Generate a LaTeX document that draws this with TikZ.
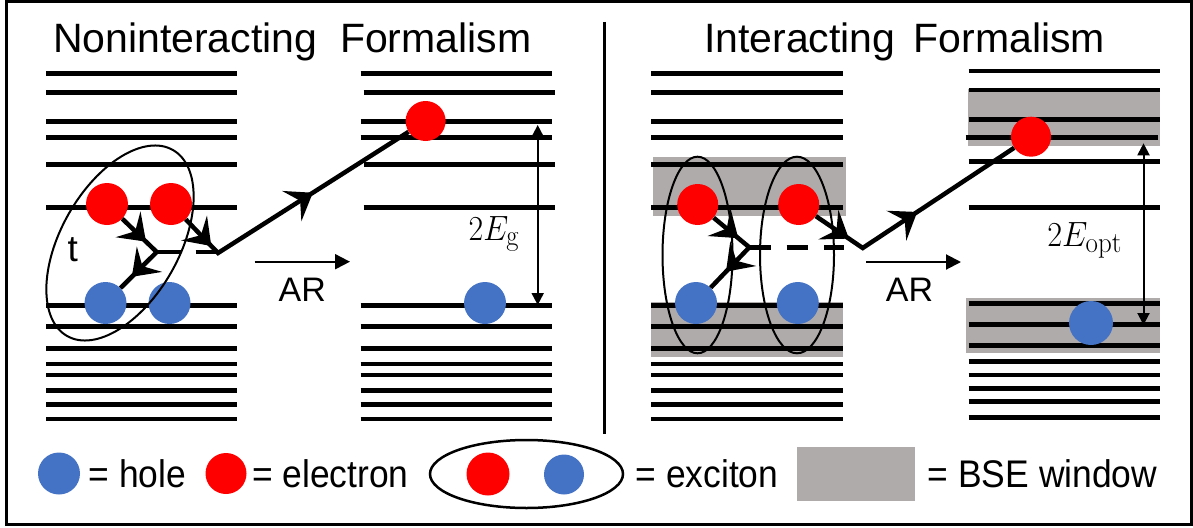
\documentclass[tikz,border=0pt]{standalone}
\usepackage[no-math]{fontspec}
\setmainfont{Liberation Sans}
\usetikzlibrary{arrows.meta,decorations.markings}
\definecolor{eblue}{RGB}{68,114,196}
\definecolor{ered}{RGB}{255,0,0}
\definecolor{bsegray}{RGB}{175,171,171}
\newcommand{\chevhead}{\fill (5pt,0pt) -- (-20pt,18pt) -- (-10pt,0pt) -- (-20pt,-18pt) -- cycle;}
\tikzset{
  level/.style={line width=4.5pt},
  band/.style={fill=bsegray},
  electron/.style={circle,fill=ered,minimum size=#1,inner sep=0pt},
  hole/.style={circle,fill=eblue,minimum size=#1,inner sep=0pt},
  exc/.style={draw,line width=2pt},
  fermion/.style={line width=4.5pt},
  arrowsat/.style 2 args={postaction={decorate},decoration={markings,
     mark=at position #1 with {\chevhead},
     mark=at position #2 with {\chevhead}}},
  arline/.style={line width=2pt,-{Triangle[length=15pt,width=15pt]}},
  dbl/.style={line width=2pt,{Triangle[length=12pt,width=12pt]}-{Triangle[length=12pt,width=12pt]}},
  title/.style={font=\fontsize{41}{41}\selectfont,anchor=base,inner sep=0pt},
  artext/.style={font=\fontsize{34}{34}\selectfont,anchor=base,inner sep=0pt},
  mathlbl/.style={font=\Huge,anchor=base,inner sep=0pt},
  legtext/.style={font=\fontsize{38.5}{38.5}\selectfont,anchor=base,inner sep=0pt},
}
\begin{document}
\begin{tikzpicture}[x=1pt,y=-1pt]
\useasboundingbox (0,0) rectangle (1193,527);
% frame and divider
\draw[line width=3pt] (6.7,1.5) rectangle (1191.5,524.3);
\coordinate (dv1) at (604.5,22);
\coordinate (dv2) at (604.5,434);
\draw[line width=2.5pt] (dv1) -- (dv2);
% titles
\node[title] (t1) at (292.3,52.7) {Noninteracting~~Formalism};
\node[title] (t2) at (904.5,52.7) {Interacting~\,Formalism};
% BSE windows
\fill[band] (653,157) rectangle (846,216);
\fill[band] (651,302) rectangle (843,357);
\fill[band] (968,89) rectangle (1160,146);
\fill[band] (965.7,298.3) rectangle (1160,353.3);
% levels, left panel
\foreach \y in {73.3,92.3,121.7,137.3,164.5,207.3,305.7,326.7,348.3,364,375,390.7,404.3,419}
  \draw[level] (46,\y) -- (237,\y);
\foreach \y in {73.3,121.7,137.3,305.7,326.7,348.3,364,375,390.7,404.3,419}
  \draw[level] (360.5,\y) -- (552,\y);
\foreach \y in {92.3,164.5,207.3}
  \draw[level] (363.6,\y) -- (555,\y);
% levels, right panel
\foreach \y in {73.3,92.3,121.7,137.3,164.5,207.3,305.7,326.7,348.3,364,375,390.7,404.3,419}
  \draw[level] (651,\y) -- (843,\y);
\foreach \y in {71,90,119.3,161.7,207.3,303.3,324.3,345.7,361.7,375,388.3,401.7,417.7}
  \draw[level] (968.5,\y) -- (1160,\y);
\draw[level] (965.7,137.7) -- (1158,137.7);
% particles, left panel
\node[electron=42pt] (le1) at (107,204) {};
\node[electron=42pt] (le2) at (171,204) {};
\node[hole=42pt] (lh1) at (105.5,303) {};
\node[hole=42pt] (lh2) at (169.5,303) {};
\node[electron=40pt] (le3) at (425.6,121) {};
\node[hole=42pt] (lh3) at (485,303) {};
% particles, right panel
\node[electron=41pt] (re1) at (697.7,204.5) {};
\node[electron=41pt] (re2) at (798.7,204.5) {};
\node[hole=42pt] (rh1) at (696,303) {};
\node[hole=42pt] (rh2) at (797.8,303) {};
\node[electron=40pt] (re3) at (1031,136.7) {};
\node[hole=44pt] (rh3) at (1091,323) {};
% excitons
\draw[exc,rotate around={60.4:(120,243)}] (120,243) ellipse [x radius=107, y radius=59];
\draw[exc] (697.5,255) ellipse [x radius=35, y radius=98.3];
\draw[exc] (797,255) ellipse [x radius=37, y radius=98.3];
% vertices
\coordinate (lv1) at (156.7,252);
\coordinate (lv2) at (218,253);
\coordinate (ld) at (217,252);
\coordinate (rv1) at (749.3,247.3);
\coordinate (rv2) at (862.7,248);
\coordinate (rd) at (844.3,247.3);
% diagram lines, left
\draw[level,dash pattern=on 24pt off 15pt] (lv1) -- (ld);
\draw[fermion,arrowsat={28pt}{78pt}] (le1) -- (lv1) -- (lh1);
\draw[fermion,arrowsat={32pt}{154pt}] (le2) -- (lv2) -- (le3);
% diagram lines, right
\draw[level,dash pattern=on 21.6pt off 15.8pt] (rv1) -- (rd);
\draw[fermion,arrowsat={27pt}{75pt}] (re1) -- (rv1) -- (rh1);
\draw[fermion,arrowsat={35pt}{117pt}] (re2) -- (rv2) -- (re3);
% t label
\node[font=\fontsize{37}{37}\selectfont,anchor=base,inner sep=0pt] (tl) at (72.8,261) {t};
% AR arrows
\coordinate (al1) at (254.5,261.7);
\coordinate (al2) at (350,261.7);
\draw[arline] (al1) -- (al2);
\node[artext] (ar1) at (302.3,301) {AR};
\coordinate (ar1s) at (866,262);
\coordinate (ar1e) at (961,262);
\draw[arline] (ar1s) -- (ar1e);
\node[artext] (ar2) at (909.5,301) {AR};
% gap arrows
\coordinate (g1) at (537.7,125);
\coordinate (g2) at (537.7,305);
\draw[dbl] (g1) -- (g2);
\node[mathlbl] (eg) at (494.1,240.7) {\scalebox{1.28}[1.41]{$2E_{\mathrm{g}}$}};
\coordinate (o1) at (1143.5,143.3);
\coordinate (o2) at (1143.5,325);
\draw[dbl] (o1) -- (o2);
\node[mathlbl] (eo) at (1084.7,246.7) {\scalebox{1.3}[1.41]{$2E_{\mathrm{opt}}$}};
% legend
\node[hole=42pt] (kh) at (59,473.5) {};
\node[legtext] (khl) at (137.5,487.3) {\scalebox{0.92}[1]{= hole}};
\node[electron=41pt] (ke) at (226,473.5) {};
\node[legtext] (kel) at (330.3,487.3) {\scalebox{0.92}[1]{= electron}};
\draw[line width=2.5pt] (526.5,474) ellipse [x radius=96.5, y radius=34];
\node[electron=43pt] (xe) at (488,474) {};
\node[hole=40pt] (xh) at (564,474.5) {};
\node[legtext] (kxl) at (707,487.3) {\scalebox{0.92}[1]{= exciton}};
\fill[band] (797,447) rectangle (915,501);
\node[legtext] (kbl) at (1042.5,487.3) {\scalebox{0.92}[1]{= BSE window}};
\end{tikzpicture}
\end{document}
